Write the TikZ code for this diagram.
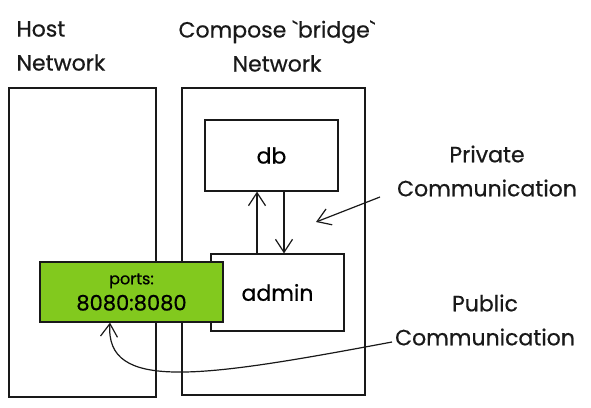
\documentclass[tikz,border=0pt]{standalone}
\usepackage{fontspec}
\setmainfont{Poppins}[FakeBold=0.6]
\usetikzlibrary{arrows.meta}
\definecolor{portgreen}{HTML}{82C91E}
\tikzset{
  box/.style={draw=black!90, line width=1.2pt, inner sep=0pt},
  lbl/.style={align=center, font=\fontsize{22}{34}\selectfont, text=black!90},
  conn/.style={draw=black!90, line width=1.2pt, -{Straight Barb[length=13pt,width=17pt,line width=1.2pt]}},
}
\begin{document}
\begin{tikzpicture}[x=1pt,y=-1pt]
\useasboundingbox (0,0) rectangle (591,407);
\node[lbl, align=left, anchor=west] (hostlbl) at (13,46) {Host\\Network};
\node[lbl] (complbl) at (277,46) {Compose \textasciigrave bridge\textasciigrave\\Network};
\node[box, minimum width=147pt, minimum height=309pt] (host) at (82.5,242.5) {};
\node[box, minimum width=183pt, minimum height=307pt] (comp) at (273.5,241.5) {};
\node[box, fill=white, minimum width=133pt, minimum height=71pt, font=\fontsize{22}{26}\selectfont] (db) at (271.5,155.5) {db};
\node[box, fill=white, minimum width=133pt, minimum height=77pt, font=\fontsize{22}{26}\selectfont] (admin) at (277.5,292.5) {admin};
\node[box, fill=portgreen, minimum width=183pt, minimum height=60pt, align=center, font=\fontsize{21}{26}\selectfont] (ports) at (131.5,292) {{\fontsize{16}{18}\selectfont ports:}\\8080:8080};
\node[lbl] (priv) at (487,171) {Private\\Communication};
\node[lbl] (pub) at (485,320) {Public\\Communication};
\coordinate (privstart) at (380,197);
\coordinate (privend) at (316,222);
\coordinate (pubstart) at (392,342);
\draw[conn] ([xshift=-20.5pt]admin.north) -- ([xshift=-14.5pt]db.south);
\draw[conn] ([xshift=12.5pt]db.south) -- ([xshift=6.5pt]admin.north);
\draw[conn] (privstart) -- (privend);
\draw[conn] (pubstart) .. controls (200,378) and (105,392) .. ([xshift=-21.5pt]ports.south);
\end{tikzpicture}
\end{document}
